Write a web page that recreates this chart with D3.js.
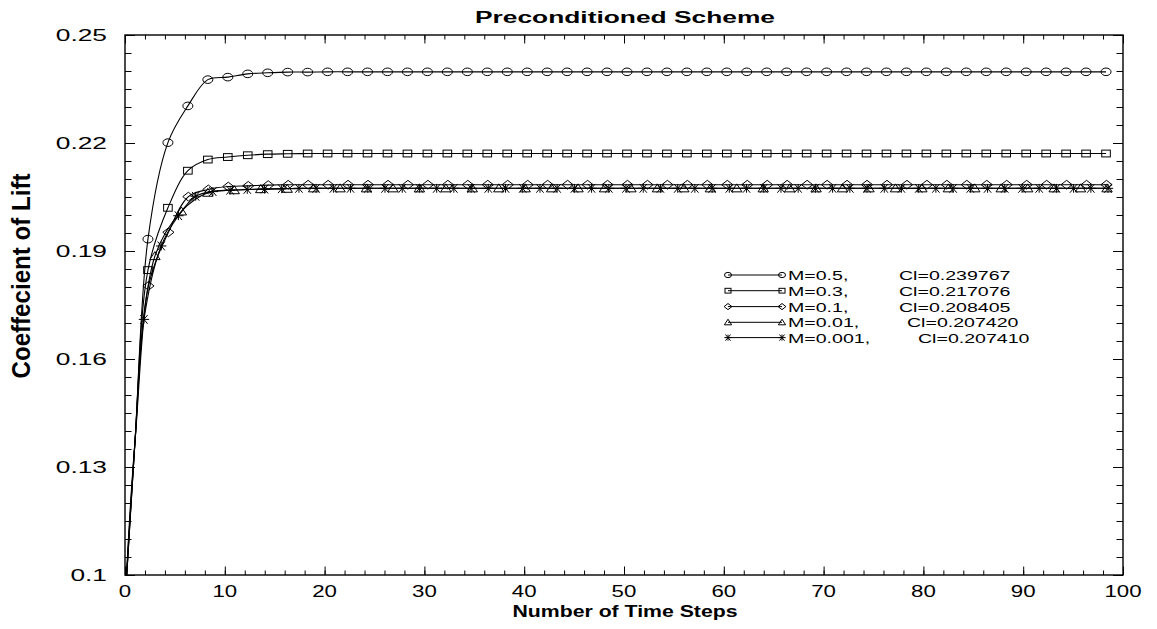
<!DOCTYPE html>
<html>
<head>
<meta charset="utf-8">
<script src="https://cdn.jsdelivr.net/npm/d3@7/dist/d3.min.js"></script>
<style>
  html, body { margin: 0; padding: 0; background: #fff; }
  svg { display: block; font-family: "Liberation Sans", Arial, Helvetica, sans-serif; }
</style>
</head>
<body>
<svg id="chart" width="1157" height="629"></svg>
<script>
// ---- data: lift coefficient history for each Mach number ----
// the first two entries of every series are plain curve points, the rest carry symbols
const stepsM05 = [0, 1.0, 2.3, 4.3, 6.3, 8.3, 10.3, 12.3, 14.3, 16.3, 18.3, 20.3, 22.3, 24.3, 26.3, 28.3, 30.3, 32.3, 34.3, 36.3, 38.3, 40.3, 42.3, 44.3, 46.3, 48.3, 50.3, 52.3, 54.3, 56.3, 58.3, 60.3, 62.3, 64.3, 66.3, 68.3, 70.3, 72.3, 74.3, 76.3, 78.3, 80.3, 82.3, 84.3, 86.3, 88.3, 90.3, 92.3, 94.3, 96.3, 98.3];
const clM05 = [0.092, 0.137, 0.1933, 0.2201, 0.2303, 0.2376, 0.2383, 0.2392, 0.2395, 0.2397, 0.2397,
  0.23977, 0.23977, 0.23977, 0.23977, 0.23977, 0.23977, 0.23977, 0.23977, 0.23977, 0.23977,
  0.23977, 0.23977, 0.23977, 0.23977, 0.23977, 0.23977, 0.23977, 0.23977, 0.23977, 0.23977,
  0.23977, 0.23977, 0.23977, 0.23977, 0.23977, 0.23977, 0.23977, 0.23977, 0.23977, 0.23977,
  0.23977, 0.23977, 0.23977, 0.23977, 0.23977, 0.23977, 0.23977, 0.23977, 0.23977, 0.23977];

const stepsM03 = [0, 1.0, 2.3, 4.3, 6.3, 8.3, 10.3, 12.3, 14.3, 16.3, 18.3, 20.3, 22.3, 24.3, 26.3, 28.3, 30.3, 32.3, 34.3, 36.3, 38.3, 40.3, 42.3, 44.3, 46.3, 48.3, 50.3, 52.3, 54.3, 56.3, 58.3, 60.3, 62.3, 64.3, 66.3, 68.3, 70.3, 72.3, 74.3, 76.3, 78.3, 80.3, 82.3, 84.3, 86.3, 88.3, 90.3, 92.3, 94.3, 96.3, 98.3];
const clM03 = [0.092, 0.137, 0.1847, 0.2020, 0.2123, 0.2154, 0.2161, 0.2166, 0.2169, 0.2170,
  0.21708, 0.21708, 0.21708, 0.21708, 0.21708, 0.21708, 0.21708, 0.21708, 0.21708, 0.21708,
  0.21708, 0.21708, 0.21708, 0.21708, 0.21708, 0.21708, 0.21708, 0.21708, 0.21708, 0.21708,
  0.21708, 0.21708, 0.21708, 0.21708, 0.21708, 0.21708, 0.21708, 0.21708, 0.21708, 0.21708,
  0.21708, 0.21708, 0.21708, 0.21708, 0.21708, 0.21708, 0.21708, 0.21708, 0.21708, 0.21708, 0.21708];

const stepsM01 = [0, 1.0, 2.35, 4.35, 6.35, 8.35, 10.35, 12.35, 14.35, 16.35, 18.35, 20.35, 22.35, 24.35, 26.35, 28.35, 30.35, 32.35, 34.35, 36.35, 38.35, 40.35, 42.35, 44.35, 46.35, 48.35, 50.35, 52.35, 54.35, 56.35, 58.35, 60.35, 62.35, 64.35, 66.35, 68.35, 70.35, 72.35, 74.35, 76.35, 78.35, 80.35, 82.35, 84.35, 86.35, 88.35, 90.35, 92.35, 94.35, 96.35, 98.35];
const clM01 = [0.092, 0.137, 0.1803, 0.1952, 0.2051, 0.2071, 0.2079, 0.2081, 0.2083, 0.2084,
  0.20841, 0.20841, 0.20841, 0.20841, 0.20841, 0.20841, 0.20841, 0.20841, 0.20841, 0.20841,
  0.20841, 0.20841, 0.20841, 0.20841, 0.20841, 0.20841, 0.20841, 0.20841, 0.20841, 0.20841,
  0.20841, 0.20841, 0.20841, 0.20841, 0.20841, 0.20841, 0.20841, 0.20841, 0.20841, 0.20841,
  0.20841, 0.20841, 0.20841, 0.20841, 0.20841, 0.20841, 0.20841, 0.20841, 0.20841, 0.20841, 0.20841];

const stepsM001 = [0, 1.0, 3.00, 5.65, 8.30, 10.95, 13.60, 16.25, 18.90, 21.55, 24.20, 26.85, 29.50, 32.15, 34.80, 37.45, 40.10, 42.75, 45.40, 48.05, 50.70, 53.35, 56.00, 58.65, 61.30, 63.95, 66.60, 69.25, 71.90, 74.55, 77.20, 79.85, 82.50, 85.15, 87.80, 90.45, 93.10, 95.75, 98.40];
const clM001 = [0.092, 0.137, 0.1886, 0.2010, 0.2062, 0.2069, 0.2072, 0.2073,
  0.20742, 0.20742, 0.20742, 0.20742, 0.20742, 0.20742, 0.20742, 0.20742, 0.20742, 0.20742,
  0.20742, 0.20742, 0.20742, 0.20742, 0.20742, 0.20742, 0.20742, 0.20742, 0.20742, 0.20742,
  0.20742, 0.20742, 0.20742, 0.20742, 0.20742, 0.20742, 0.20742, 0.20742, 0.20742, 0.20742, 0.20742];

const stepsM0001 = [0, 1.0, 1.90, 3.63, 5.35, 7.08, 8.80, 10.53, 12.25, 13.98, 15.70, 17.43, 19.15, 20.88, 22.60, 24.33, 26.05, 27.78, 29.50, 31.23, 32.95, 34.68, 36.40, 38.13, 39.85, 41.58, 43.30, 45.03, 46.75, 48.48, 50.20, 51.93, 53.65, 55.38, 57.10, 58.83, 60.55, 62.28, 64.00, 65.73, 67.45, 69.18, 70.90, 72.63, 74.35, 76.08, 77.80, 79.53, 81.25, 82.98, 84.70, 86.43, 88.15, 89.88, 91.60, 93.33, 95.05, 96.78, 98.50];
const clM0001 = [0.092, 0.137, 0.1710, 0.1914, 0.1998, 0.2052, 0.2065, 0.2069, 0.2071, 0.2072, 0.2073,
  0.20741, 0.20741, 0.20741, 0.20741, 0.20741, 0.20741, 0.20741, 0.20741, 0.20741, 0.20741,
  0.20741, 0.20741, 0.20741, 0.20741, 0.20741, 0.20741, 0.20741, 0.20741, 0.20741, 0.20741,
  0.20741, 0.20741, 0.20741, 0.20741, 0.20741, 0.20741, 0.20741, 0.20741, 0.20741, 0.20741,
  0.20741, 0.20741, 0.20741, 0.20741, 0.20741, 0.20741, 0.20741, 0.20741, 0.20741, 0.20741,
  0.20741, 0.20741, 0.20741, 0.20741, 0.20741, 0.20741, 0.20741, 0.20741];

const machLabels = ["M=0.5,", "M=0.3,", "M=0.1,", "M=0.01,", "M=0.001,"];
const clLabels = ["Cl=0.239767", "Cl=0.217076", "Cl=0.208405", "Cl=0.207420", "Cl=0.207410"];
const symbolKinds = ["circle", "square", "diamond", "triangle", "star"];

const xTickValues = [0, 10, 20, 30, 40, 50, 60, 70, 80, 90, 100];
const xTickLabels = ["0", "10", "20", "30", "40", "50", "60", "70", "80", "90", "100"];
const yTickValues = [0.1, 0.13, 0.16, 0.19, 0.22, 0.25];
const yTickLabels = ["0.1", "0.13", "0.16", "0.19", "0.22", "0.25"];

const chartTitle = "Preconditioned Scheme";
const xTitle = "Number of Time Steps";
const yTitle = "Coeffecient of Lift";

// ---- layout ----
const svg = d3.select("#chart");
const plotLeft = 125, plotRight = 1123, plotTop = 35, plotBottom = 575;
const x = d3.scaleLinear().domain([0, 100]).range([plotLeft, plotRight]);
const y = d3.scaleLinear().domain([0.1, 0.25]).range([plotBottom, plotTop]);

const allSteps = [stepsM05, stepsM03, stepsM01, stepsM001, stepsM0001];
const allCl = [clM05, clM03, clM01, clM001, clM0001];
const series = allSteps.map((st, i) => ({
  kind: symbolKinds[i],
  points: st.map((s, j) => ({ s, v: allCl[i][j], mark: j >= 2 }))
}));

svg.append("defs").append("clipPath").attr("id", "plotClip")
  .append("rect").attr("x", plotLeft).attr("y", plotTop)
  .attr("width", plotRight - plotLeft).attr("height", plotBottom - plotTop);

// ---- symbol drawing ----
function drawSymbol(g, kind, cx, cy, k) {
  let el;
  if (kind === "circle") {
    el = g.append("ellipse").attr("cx", cx).attr("cy", cy).attr("rx", 5 * k).attr("ry", 3.8 * k);
  } else if (kind === "square") {
    el = g.append("rect").attr("x", cx - 4.3 * k).attr("y", cy - 3.4 * k)
      .attr("width", 8.6 * k).attr("height", 6.8 * k);
  } else if (kind === "diamond") {
    const w = 5.6 * k, h = 4.4 * k;
    el = g.append("path").attr("d", `M${cx - w},${cy}L${cx},${cy - h}L${cx + w},${cy}L${cx},${cy + h}Z`);
  } else if (kind === "triangle") {
    const w = 5.2 * k, h = 4.2 * k;
    el = g.append("path").attr("d", `M${cx - w},${cy + h * 0.85}L${cx},${cy - h * 1.05}L${cx + w},${cy + h * 0.85}Z`);
  } else {
    const w = 5.2 * k, h = 4.4 * k;
    el = g.append("path").attr("d",
      `M${cx - w},${cy}L${cx + w},${cy}` +
      `M${cx - w * 0.7},${cy - h}L${cx + w * 0.7},${cy + h}` +
      `M${cx - w * 0.7},${cy + h}L${cx + w * 0.7},${cy - h}` +
      `M${cx},${cy - h}L${cx},${cy + h}`);
  }
  el.attr("fill", "none").attr("stroke", "#000").attr("stroke-width", 1);
}

// ---- curves ----
const line = d3.line()
  .x(d => x(d.s)).y(d => y(d.v))
  .curve(d3.curveCatmullRom.alpha(0.5));

const plot = svg.append("g").attr("clip-path", "url(#plotClip)");
series.forEach(sr => {
  plot.append("path").datum(sr.points)
    .attr("d", line).attr("fill", "none")
    .attr("stroke", "#000").attr("stroke-width", 1.1);
});
series.forEach(sr => {
  const g = plot.append("g");
  sr.points.filter(p => p.mark).forEach(p => drawSymbol(g, sr.kind, x(p.s), y(p.v), 1));
});

// ---- axes: ticks on all four sides, pointing inward ----
const axisG = svg.append("g").attr("stroke-width", 1);
const xMinor = d3.range(0, 100.01, 2);
const yMinor = d3.range(0.1, 0.2501, 0.005);

axisG.append("g").attr("transform", `translate(0,${plotBottom})`)
  .call(d3.axisBottom(x).tickValues(xMinor).tickSize(-4.5).tickFormat(""));
axisG.append("g").attr("transform", `translate(0,${plotBottom})`)
  .call(d3.axisBottom(x).tickValues(xTickValues).tickSize(-8.5).tickFormat(""));
axisG.append("g").attr("transform", `translate(0,${plotTop})`)
  .call(d3.axisTop(x).tickValues(xMinor).tickSize(-4.5).tickFormat(""));
axisG.append("g").attr("transform", `translate(0,${plotTop})`)
  .call(d3.axisTop(x).tickValues(xTickValues).tickSize(-8.5).tickFormat(""));
axisG.append("g").attr("transform", `translate(${plotLeft},0)`)
  .call(d3.axisLeft(y).tickValues(yMinor).tickSize(-6.5).tickFormat(""));
axisG.append("g").attr("transform", `translate(${plotLeft},0)`)
  .call(d3.axisLeft(y).tickValues(yTickValues).tickSize(-10).tickFormat(""));
axisG.append("g").attr("transform", `translate(${plotRight},0)`)
  .call(d3.axisRight(y).tickValues(yMinor).tickSize(-6.5).tickFormat(""));
axisG.append("g").attr("transform", `translate(${plotRight},0)`)
  .call(d3.axisRight(y).tickValues(yTickValues).tickSize(-10).tickFormat(""));
axisG.selectAll(".domain").remove();
axisG.selectAll(".tick line").attr("stroke", "#000");

svg.append("rect").attr("x", plotLeft).attr("y", plotTop)
  .attr("width", plotRight - plotLeft).attr("height", plotBottom - plotTop)
  .attr("fill", "none").attr("stroke", "#000").attr("stroke-width", 1.4);

// ---- text (glyphs are drawn wide, as in the original output) ----
function wideText(px, py, str, opts) {
  const o = Object.assign({ size: 17, sx: 1.3, sy: 1, anchor: "start", weight: "normal", rotate: 0 }, opts);
  const g = svg.append("g").attr("transform",
    `translate(${px},${py})` + (o.rotate ? ` rotate(${o.rotate})` : "") + ` scale(${o.sx},${o.sy})`);
  return g.append("text").attr("x", 0).attr("y", 0)
    .attr("text-anchor", o.anchor).attr("font-size", o.size)
    .attr("font-weight", o.weight).attr("fill", "#000").text(str);
}

xTickValues.forEach((v, i) => wideText(x(v), 597, xTickLabels[i], { anchor: "middle", size: 16.5, sx: 1.35 }));
yTickValues.forEach((v, i) => wideText(107, y(v) + 6.2, yTickLabels[i], { anchor: "end", size: 17, sx: 1.55 }));

wideText(625, 22.5, chartTitle, { anchor: "middle", size: 17, sx: 1.55, weight: "bold" });
wideText(625, 617, xTitle, { anchor: "middle", size: 17, sx: 1.25, weight: "bold" });
wideText(30, 276, yTitle, { anchor: "middle", size: 17, sx: 1.42, sy: 1.55, weight: "bold", rotate: -90 });

// ---- legend ----
const legendY = [275, 290.7, 306.6, 322.3, 337.6];
const clX = [899, 899, 899, 907, 918];
const legend = svg.append("g");
symbolKinds.forEach((kind, i) => {
  const ly = legendY[i];
  legend.append("line").attr("x1", 728).attr("x2", 782).attr("y1", ly).attr("y2", ly)
    .attr("stroke", "#000").attr("stroke-width", 1);
  drawSymbol(legend, kind, 728, ly, 0.7);
  drawSymbol(legend, kind, 782, ly, 0.7);
  wideText(788, ly + 5, machLabels[i], { size: 13.5, sx: 1.45 });
  wideText(clX[i], ly + 5, clLabels[i], { size: 13.5, sx: 1.45 });
});
</script>
</body>
</html>
